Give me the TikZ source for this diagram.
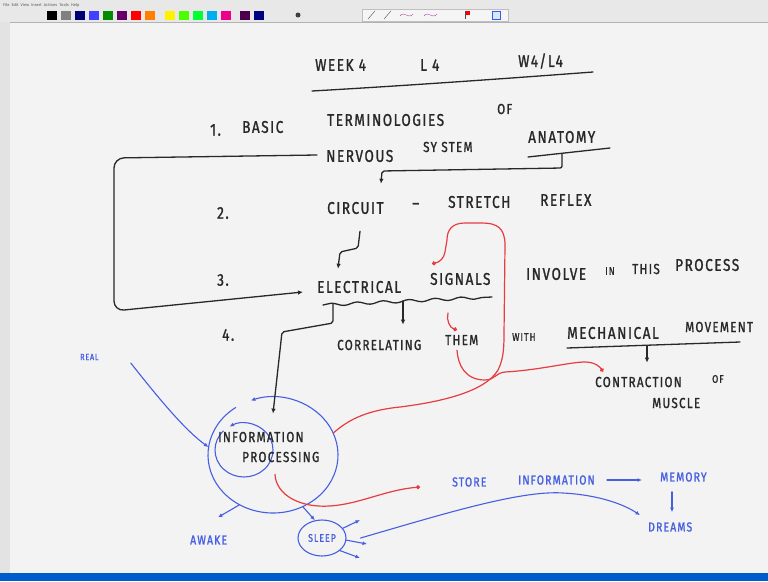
\documentclass[tikz,border=0pt]{standalone}
\usepackage{fontspec}
\setmainfont{Fira Sans}
\newfontfamily\handfont[FakeStretch=0.8,LetterSpace=9,FakeBold=1.2]{Fira Sans}
\usetikzlibrary{arrows.meta,decorations.pathmorphing,shapes.geometric,positioning}

\definecolor{ink}{RGB}{40,40,40}
\definecolor{inkblue}{RGB}{70,95,225}
\definecolor{inkred}{RGB}{232,60,65}
\definecolor{board}{RGB}{243,243,243}

\tikzset{
  wordbig/.style={anchor=west, inner sep=0pt, text=ink, font=\handfont\fontsize{17}{17}\selectfont},
  wordmid/.style={wordbig, font=\handfont\fontsize{14.5}{14.5}\selectfont},
  wordsml/.style={wordbig, font=\handfont\fontsize{11}{11}\selectfont},
  bluetxt/.style={wordbig, text=inkblue, font=\handfont\fontsize{13}{13}\selectfont},
  inkline/.style={draw=ink, line width=1.3pt, line cap=round, line join=round},
  bluepen/.style={draw=inkblue, line width=1.1pt, line cap=round},
  redpen/.style={draw=inkred, line width=1.2pt, line cap=round},
  arrowblk/.style={-{Latex[length=5pt,width=4.5pt]}},
  arrowblue/.style={-{Latex[length=4.5pt,width=4pt]}},
  arrowdot/.style={-{Circle[length=4pt]}},
}

\begin{document}
\begin{tikzpicture}[x=1pt,y=1pt]
\useasboundingbox (0,0) rectangle (768,-581);
\fill[board] (0,0) rectangle (768,-581);

% window frame
\fill[gray!18] (0,0) rectangle (768,-22);
\draw[gray!60] (0,-22) -- (768,-22);
\fill[gray!22] (0,-22) rectangle (10,-573);
\node[anchor=west, inner sep=0pt, text=gray!70!black, font=\fontsize{4}{4}\selectfont] (menu) at (3,-5) {File\ \ Edit\ \ View\ \ Insert\ \ Actions\ \ Tools\ \ Help};
\foreach \c/\xx in {black/47, gray/61, blue!45!black/75, blue!75/89, green!55!black/103, violet!80!black/117, red/131, orange/145,
                    yellow/165, green!70!yellow/179, green!80!cyan/193, cyan/207, magenta/221, violet!60!black/240, blue!50!black/254}
  \fill[\c] (\xx,-11) rectangle ++(10,-9);
\fill[gray!50!black] (298,-15) circle (2.5pt);
\draw[gray!50, fill=gray!8] (362,-9) rectangle (508,-21);
\draw[gray!60!black] (368,-19) -- (375,-11) (384,-19) -- (391,-11);
\draw[violet!70] (400,-16) .. controls (404,-10) and (408,-20) .. (413,-14);
\draw[violet!70] (424,-16) .. controls (428,-10) and (432,-20) .. (437,-14);
\fill[red] (465,-11) rectangle (470,-15);
\draw[gray!60!black] (465,-11) -- (465,-19);
\draw[blue!70, fill=cyan!20] (492,-11) rectangle (500,-19);
\fill[blue!55!cyan!80!black] (0,-573) rectangle (768,-581);

% title
\node[wordbig] (week) at (315,-65) {WEEK 4};
\node[wordbig] (lfour) at (420,-65) {L 4};
\node[wordbig] (wfour) at (518,-61) {W4/L4};
\draw[inkline] (312,-91) .. controls (400,-86) and (500,-79) .. (593,-72);

% 1.
\node[wordbig] (num1) at (210,-130) {1.};
\node[wordbig] (basic) at (242,-127) {BASIC};
\node[wordbig] (termin) at (327,-120) {TERMINOLOGIES};
\node[wordmid] (of) at (497,-109) {OF};
\node[wordbig] (nervous) at (326,-156) {NERVOUS};
\node[wordmid] (system) at (423,-147) {SY STEM};
\node[wordbig] (anatomy) at (528,-137) {ANATOMY};
\draw[inkline] (528,-157) -- (610,-148);
\coordinate (anaul) at (562,-154);

% 2.
\node[wordbig] (num2) at (217,-213) {2.};
\node[wordbig] (circuit) at (327,-208) {CIRCUIT};
\node[wordbig] (dash) at (412,-206) {–};
\node[wordbig] (stretch) at (448,-202) {STRETCH};
\node[wordbig] (reflex) at (540,-200) {REFLEX};

% 3.
\node[wordbig] (num3) at (217,-280) {3.};
\node[wordbig] (electrical) at (317,-287) {ELECTRICAL};
\node[wordbig] (signals) at (430,-279) {SIGNALS};
\node[wordbig] (involve) at (526,-274) {INVOLVE};
\node[wordsml] (in) at (605,-271) {IN};
\node[wordmid] (this) at (632,-269) {THIS};
\node[wordbig] (process) at (675,-265) {PROCESS};
\coordinate (waveL) at (323,-305);
\coordinate (waveR) at (492,-297);
\draw[inkline, decorate, decoration={snake, amplitude=1.4pt, segment length=26pt}] (waveL) -- (waveR);
\coordinate (wave1) at (333,-304);
\coordinate (wave2) at (403,-301);

% 4.
\node[wordbig] (num4) at (222,-335) {4.};
\node[wordmid] (correlating) at (337,-345) {CORRELATING};
\node[wordmid] (them) at (445,-340) {THEM};
\node[wordsml] (with) at (512,-337) {WITH};
\node[wordbig] (mechanical) at (567,-333) {MECHANICAL};
\node[wordmid] (movement) at (685,-327) {MOVEMENT};
\draw[inkline] (567,-348) -- (740,-342);
\coordinate (mechul) at (647,-346);
\node[wordmid] (contraction) at (595,-382) {CONTRACTION};
\node[wordsml] (ofm) at (712,-379) {OF};
\node[wordmid] (muscle) at (652,-403) {MUSCLE};

% black links
\draw[inkline, arrowblk, rounded corners=10pt] ([shift={(-9,1)}]nervous.west) -- (114,-158) -- (114,-311) -- ([shift={(-14,-5)}]electrical.west);
\draw[inkline, arrowblk, rounded corners=2pt] (anaul) -- (562,-168) -- (382,-171) -- ([shift={(54,18)}]circuit.north west);
\draw[inkline, arrowblk, rounded corners=2pt] ([shift={(33,-17)}]circuit.south west) -- (358,-248) -- (340,-252) -- ([shift={(21,12)}]electrical.north west);
\draw[inkline, arrowblk] (wave2) -- ([shift={(66,15)}]correlating.north west);
\draw[inkline, arrowblk] (mechul) -- ([shift={(52,14)}]contraction.north west);

% information processing
\node[ellipse, minimum width=130pt, minimum height=116pt, inner sep=0pt] (mind) at (273,-455) {};
\node[ellipse, minimum width=58pt, minimum height=54pt, inner sep=0pt] (inner) at (244,-450) {};
\draw[bluepen, arrowblue] ([shift={(125:65pt and 58pt)}]mind.center) arc[start angle=125, delta angle=345, x radius=65pt, y radius=58pt];
\draw[bluepen, arrowblue] ([shift={(135:29pt and 27pt)}]inner.center) arc[start angle=135, delta angle=345, x radius=29pt, y radius=27pt];
\node[wordmid] (info) at (218,-437) {INFORMATION};
\node[wordmid] (proc) at (242,-457) {PROCESSING};
\draw[inkline, arrowblk, rounded corners=2pt] (wave1) -- (333,-323) -- (282,-332) -- ([shift={(55,18)}]info.north west);

% red links
\draw[redpen, arrowdot] (mind.20) .. controls (350,-418) and (370,-410) .. (400,-407)
  .. controls (440,-402) and (485,-392) .. (498,-370) .. controls (503,-360) and (504,-350) .. (504,-335)
  -- (505,-245) .. controls (505,-228) and (497,-223) .. (482,-223) -- (465,-223)
  .. controls (452,-223) and (447,-230) .. (447,-240) -- (445,-252)
  .. controls (444,-258) and (440,-262) .. ([shift={(2,9)}]signals.north west);
\coordinate (hook) at (448,-313);
\draw[redpen, arrowdot] (hook) .. controls (446,-320) and (450,-328) .. ([shift={(12,5)}]them.north west);
\draw[redpen, arrowdot] ([shift={(12,-5)}]them.south west) .. controls (458,-365) and (465,-380) .. (485,-380)
  .. controls (495,-380) and (495,-373) .. (505,-372) .. controls (540,-370) and (570,-362) .. (585,-362)
  .. controls (595,-362) and (600,-367) .. ([shift={(8,5)}]contraction.north west);

% blue part
\node[bluetxt, font=\handfont\fontsize{9}{9}\selectfont] (real) at (80,-357) {REAL};
\node[bluetxt] (awake) at (190,-540) {AWAKE};
\node[ellipse, draw=inkblue, line width=1.1pt, minimum width=48pt, minimum height=36pt, inner sep=0pt,
      text=inkblue, font=\handfont\fontsize{11}{11}\selectfont] (sleep) at (322,-538) {SLEEP};
\node[bluetxt] (store) at (452,-482) {STORE};
\node[bluetxt] (storeinfo) at (518,-480) {INFORMATION};
\node[bluetxt] (memory) at (660,-477) {MEMORY};
\node[bluetxt] (dreams) at (648,-527) {DREAMS};

\draw[redpen, arrowdot] ([shift={(33,-12)}]proc.south west) .. controls (276,-495) and (300,-508) .. (330,-506)
  .. controls (360,-504) and (385,-490) .. ([shift={(-32,-5)}]store.west);

\draw[bluepen, arrowblue] ([shift={(32,-6)}]real.east) .. controls (160,-400) and (185,-430) .. (mind.173);
\draw[bluepen, arrowblue] (mind.236) -- ([shift={(28,18)}]awake.north west);
\draw[bluepen, arrowblue] (mind.300) -- (sleep.112);
\foreach \a/\ex/\ey [count=\k] in {25/360/520, -5/367/544, -35/360/558} {
  \coordinate (ray\k) at (\ex,-\ey);
  \draw[bluepen, arrowblue] (sleep.\a) -- (ray\k);
}
\draw[bluepen, arrowblue] ([shift={(14,0)}]sleep.east) .. controls (440,-515) and (520,-490) .. (563,-493)
  .. controls (600,-495) and (625,-505) .. ([shift={(-8,7)}]dreams.north west);
\draw[bluepen, arrowblue] ([shift={(12,0)}]storeinfo.east) -- ([shift={(-18,-3)}]memory.west);
\draw[bluepen, arrowblue] ([shift={(12,-10)}]memory.south west) -- ([shift={(24,10)}]dreams.north west);
\end{tikzpicture}
\end{document}
